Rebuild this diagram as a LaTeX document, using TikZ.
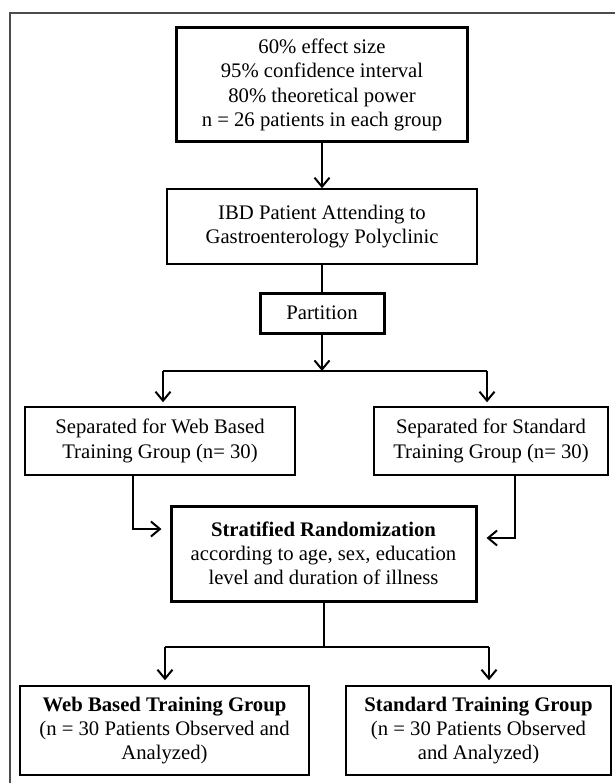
\documentclass[tikz,border=0pt]{standalone}
\usepackage{fontspec}
\setmainfont{Liberation Serif}
\usetikzlibrary{arrows.meta}
\begin{document}
\begin{tikzpicture}[x=1pt,y=-1pt,
  box/.style={draw=black, line width=1.5pt, inner sep=0pt, align=center, font=\fontsize{20.7}{24.3}\selectfont},
  thickbox/.style={box, line width=3pt},
  conn/.style={line width=2pt},
  arr/.style={conn, -{Straight Barb[length=9pt,width=15pt,line width=2pt]}},
]
\useasboundingbox (0,0) rectangle (615,783);
\fill[white] (0,0) rectangle (615,783);
\draw[line width=1.3pt, draw=black!70] (10,783) -- (10,13) -- (615,13);

\node[thickbox, minimum width=291pt, minimum height=114pt] (top) at (322,85)
  {60\% effect size\\95\% confidence interval\\80\% theoretical power\\n = 26 patients in each group};
\node[box, minimum width=310pt, minimum height=75pt] (ibd) at (322,226.5)
  {IBD Patient Attending to\\Gastroenterology Polyclinic};
\node[thickbox, minimum width=124pt, minimum height=40pt] (part) at (322,313) {Partition};
\node[box, minimum width=270pt, minimum height=68pt] (lsep) at (160,441)
  {Separated for Web Based\\Training Group (n= 30)};
\node[box, minimum width=234pt, minimum height=68pt] (rsep) at (491,441)
  {Separated for Standard\\Training Group (n= 30)};
\node[thickbox, minimum width=305pt, minimum height=95pt] (strat) at (323.5,553.5)
  {\textbf{Stratified Randomization}\\according to age, sex, education\\level and duration of illness};
\node[box, minimum width=289pt, minimum height=89pt] (lres) at (164.5,730.5)
  {\textbf{Web Based Training Group}\\(n = 30 Patients Observed and\\Analyzed)};
\node[box, minimum width=265pt, minimum height=89pt] (rres) at (478.5,730.5)
  {\textbf{Standard Training Group}\\(n = 30 Patients Observed\\and Analyzed)};

\draw[arr] (top) -- (ibd);
\draw[conn] (ibd) -- (part);
\coordinate (s1) at (322,371);
\coordinate (sl) at (163,371);
\coordinate (sr) at (487,371);
\draw[arr] (part) -- (s1);
\draw[conn] (sl) -- (sr);
\draw[arr, shorten >=4pt] (sl) -- (sl |- lsep.north);
\draw[arr, shorten >=4pt] (sr) -- (sr |- rsep.north);

\coordinate (la) at (133,529);
\coordinate (ra) at (515,538);
\draw[arr, shorten >=8pt] (lsep.south -| la) -- (la) -- (strat.west |- la);
\draw[arr, shorten >=9pt] (rsep.south -| ra) -- (ra) -- (strat.east |- ra);

\coordinate (j) at (323.5,647);
\coordinate (jl) at (165,647);
\coordinate (jr) at (489,647);
\draw[conn] (strat) -- (j);
\draw[conn] (jl) -- (jr);
\draw[arr, shorten >=5pt] (jl) -- (jl |- lres.north);
\draw[arr, shorten >=5pt] (jr) -- (jr |- rres.north);
\end{tikzpicture}
\end{document}
